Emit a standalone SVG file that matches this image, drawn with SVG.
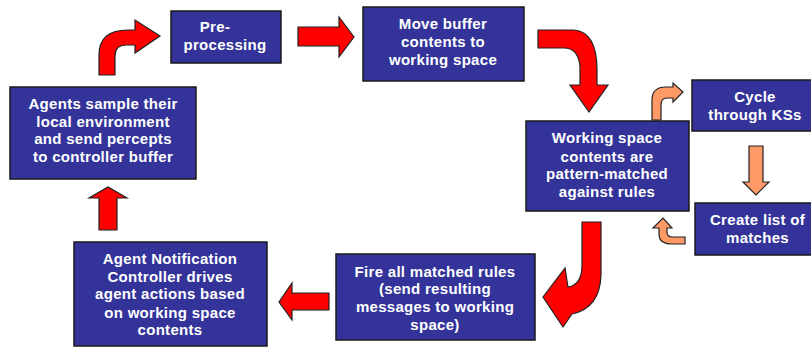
<svg xmlns="http://www.w3.org/2000/svg" width="811" height="347" viewBox="0 0 811 347">
<style>
.box{fill:#333399;stroke:#1a1a1a;stroke-width:1.5}
.t{fill:#ffffff;font-family:"Liberation Sans",Arial,sans-serif;font-weight:bold;font-size:15px;letter-spacing:0.3px;text-anchor:middle}
.red{fill:#ff0000;stroke:#222222;stroke-width:1.2;stroke-linejoin:miter}
.org{fill:#ff9966;stroke:#222222;stroke-width:1.2}
</style>
<rect width="811" height="347" fill="#ffffff"/>
<g id="connectors">
<path class="red" d="M99,75 L99,55 Q99,30 128,30 L135,30 L135,20 L160,36 L135,53 L135,45 L126,45 Q115,45 115,56 L115,75 Z"/>
<path class="red" d="M298,27 L339,27 L339,17 L354,37 L339,57 L339,46 L298,46 Z"/>
<path class="red" d="M538,30 L574,30 Q597,32 597,70 L597,85 L608,85 L589,112 L570,85 L580,85 L580,66 Q578,48 564,48 L538,48 Z"/>
<path class="org" d="M652,120 L652,100 Q652,87 666,87 L673,87 L673,83 L683,92 L673,102 L673,98 L667,98 Q661,98 661,105 L661,120 Z"/>
<path class="org" d="M749,146 L763,146 L763,182 L769,182 L756,195 L743,182 L749,182 Z"/>
<path class="org" d="M685,237 L672,237 Q667,237 667,232 L667,228 L672,228 L663,218 L653,228 L659,228 L659,234 Q659,244 672,244 L685,244 Z"/>
<path class="red" d="M582,222 L601,222 L601,275 Q600,308 572,314 L563,327 L543,297 L565,268 L568,287 Q582,285 582,265 Z"/>
<path class="red" d="M329,293 L292,293 L292,283 L279,302 L292,320 L292,310 L329,310 Z"/>
<path class="red" d="M99,230 L99,198 L89,198 L108,187 L127,198 L117,198 L117,230 Z"/>
</g>
<g id="preprocessing">
<rect class="box" x="171" y="11" width="110" height="52"/>
<text class="t" x="215" y="32">Pre-</text>
<text class="t" x="225" y="50">processing</text>
</g>
<g id="agents-sample">
<rect class="box" x="10" y="87" width="186" height="92"/>
<text class="t" x="103" y="109">Agents sample their</text>
<text class="t" x="103" y="127">local environment</text>
<text class="t" x="103" y="144">and send percepts</text>
<text class="t" x="103" y="162">to controller buffer</text>
</g>
<g id="move-buffer">
<rect class="box" x="363" y="7" width="161" height="74"/>
<text class="t" x="443" y="29">Move buffer</text>
<text class="t" x="443" y="47">contents to</text>
<text class="t" x="443" y="65">working space</text>
</g>
<g id="working-space">
<rect class="box" x="526" y="121" width="163" height="90"/>
<text class="t" x="607" y="143">Working space</text>
<text class="t" x="607" y="161.5">contents are</text>
<text class="t" x="607" y="179">pattern-matched</text>
<text class="t" x="607" y="196.5">against rules</text>
</g>
<g id="cycle">
<rect class="box" x="692" y="80" width="126" height="51"/>
<text class="t" x="755" y="101.5">Cycle</text>
<text class="t" x="755" y="120">through KSs</text>
</g>
<g id="create-list">
<rect class="box" x="695" y="203" width="126" height="52"/>
<text class="t" x="757.5" y="225">Create list of</text>
<text class="t" x="757.5" y="243">matches</text>
</g>
<g id="fire-rules">
<rect class="box" x="336" y="254" width="199" height="86"/>
<text class="t" x="435" y="276.5">Fire all matched rules</text>
<text class="t" x="435" y="294">(send resulting</text>
<text class="t" x="435" y="311.5">messages to working</text>
<text class="t" x="435" y="329.5">space)</text>
</g>
<g id="agent-notification">
<rect class="box" x="74" y="242" width="193" height="104"/>
<text class="t" x="170" y="264">Agent Notification</text>
<text class="t" x="170" y="281.5">Controller drives</text>
<text class="t" x="170" y="299">agent actions based</text>
<text class="t" x="170" y="317.5">on working space</text>
<text class="t" x="170" y="335">contents</text>
</g>
</svg>
